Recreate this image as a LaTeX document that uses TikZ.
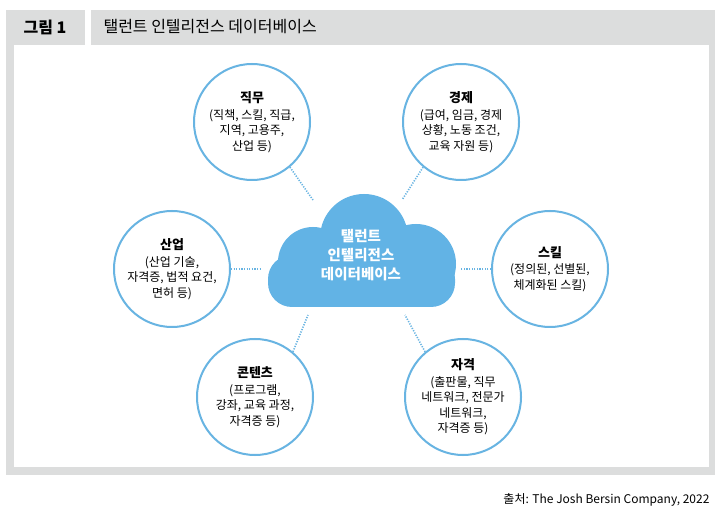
\documentclass[tikz,border=0pt]{standalone}
\usepackage{fontspec}
\setmainfont{Noto Sans CJK KR}
\definecolor{framegray}{RGB}{220,221,221}
\definecolor{cloudblue}{RGB}{98,179,229}
\definecolor{ringblue}{RGB}{104,180,226}
\tikzset{
  topic/.style={circle, draw=ringblue, line width=2pt, fill=white,
    minimum size=116pt, inner sep=0pt, align=center, font=\fontsize{12}{15.5}\selectfont},
  link/.style={ringblue, line width=1.6pt, dash pattern=on 1.2pt off 1.4pt},
}
\newcommand{\hd}[1]{{\bfseries\fontsize{13}{16}\selectfont #1}\\[1pt]}
\begin{document}
\begin{tikzpicture}[x=1pt,y=-1pt]
  \useasboundingbox (0,0) rectangle (720,518);
  % frame
  \fill[framegray] (6,10) rectangle (715,475);
  \fill[white] (14,45) rectangle (709,467);
  \fill[white] (85,10) rectangle (91,45);
  \node[anchor=west, font=\bfseries\fontsize{16}{18}\selectfont] (fig) at (20,27) {그림 1};
  \node[anchor=west, font=\fontsize{16}{18}\selectfont] (title) at (100,27) {탤런트 인텔리전스 데이터베이스};
  % cloud
  \fill[cloudblue] (364,238) circle (44);
  \fill[cloudblue] (313,262) circle (35);
  \fill[cloudblue] (416,264) circle (40);
  \fill[cloudblue, rounded corners=24pt] (268,255) rectangle (455,307);
  \node[white, align=center, font=\bfseries\fontsize{14.5}{19}\selectfont] (db) at (361,255)
    {탤런트\\인텔리전스\\데이터베이스};
  % anchors on the cloud
  \coordinate (c1) at (313,200);
  \coordinate (c2) at (402,200);
  \coordinate (c3) at (262,269);
  \coordinate (c4) at (460,269);
  \coordinate (c5) at (308,315);
  \coordinate (c6) at (405,315);
  % topics
  \node[topic] (job) at (252,122) {\hd{직무}(직책, 스킬, 직급,\\지역, 고용주,\\산업 등)};
  \node[topic] (econ) at (461,122) {\hd{경제}(급여, 임금, 경제\\상황, 노동 조건,\\교육 자원 등)};
  \node[topic] (ind) at (172,269) {\hd{산업}(산업 기술,\\자격증, 법적 요건,\\면허 등)};
  \node[topic] (skill) at (550,269) {\hd{스킬}(정의된, 선별된,\\체계화된 스킬)};
  \node[topic] (cont) at (255,397) {\hd{콘텐츠}(프로그램,\\강좌, 교육 과정,\\자격증 등)};
  \node[topic] (cert) at (463,397) {\hd{자격}(출판물, 직무\\네트워크, 전문가\\네트워크,\\자격증 등)};
  % links
  \draw[link] (job.-50) -- (c1);
  \draw[link] (econ.-130) -- (c2);
  \draw[link] (ind.east) -- (c3);
  \draw[link] (skill.west) -- (c4);
  \draw[link] (cont.50) -- (c5);
  \draw[link] (cert.130) -- (c6);
  % source
  \node[anchor=east, font=\fontsize{12}{14}\selectfont] (src) at (713,500)
    {출처: The Josh Bersin Company, 2022};
\end{tikzpicture}
\end{document}
